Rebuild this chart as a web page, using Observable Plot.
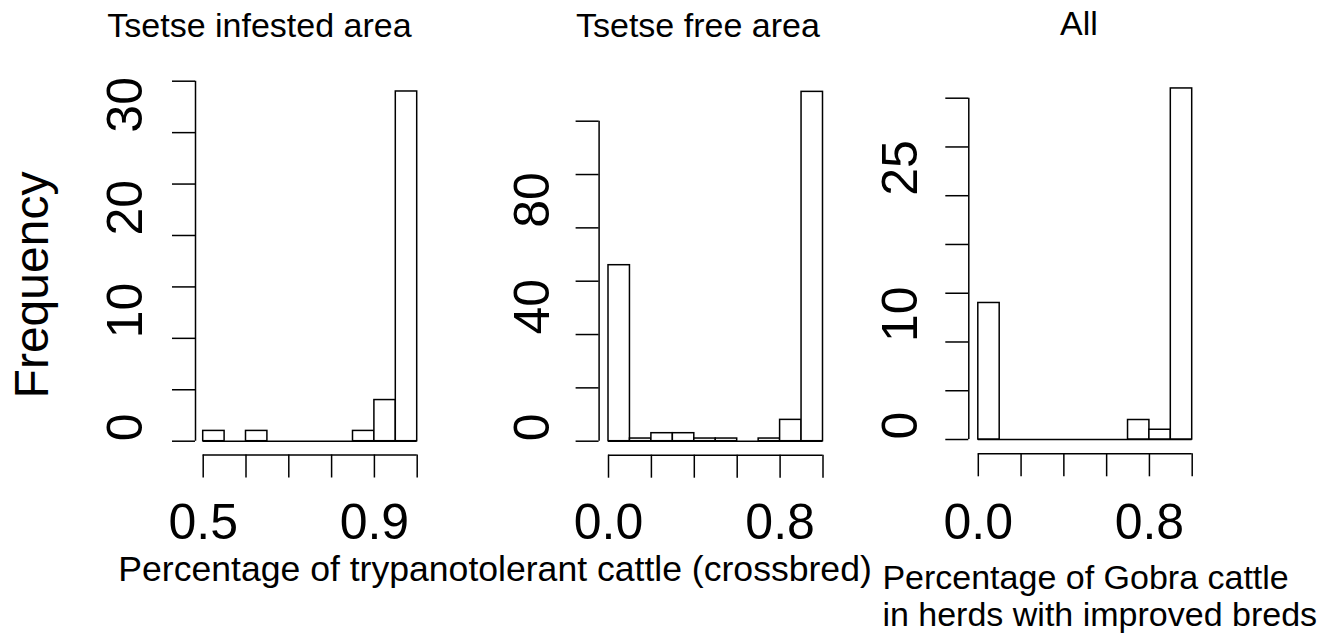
<!DOCTYPE html>
<html><head><meta charset="utf-8">
<script src="https://cdn.jsdelivr.net/npm/d3@7"></script>
<script src="https://cdn.jsdelivr.net/npm/@observablehq/plot@0.6"></script>
<style>
html,body{margin:0;padding:0;background:#fff;}
#root{position:relative;width:1328px;height:634px;overflow:hidden;font-family:"Liberation Sans",Arial,Helvetica,sans-serif;color:#000;background:#fff;}
.lbl{position:absolute;white-space:nowrap;line-height:1;}
.panel{position:absolute;top:0;}
</style></head><body><div id="root"></div>
<script>
// ---- data ----
const panelTitles = ["Tsetse infested area", "Tsetse free area", "All"];
const yAxisTitle = "Frequency";
const xAxisTitle1 = "Percentage of trypanotolerant cattle (crossbred)";
const xAxisTitle3 = ["Percentage of Gobra cattle", "in herds with improved breds"];

const binEdges1 = [0.5, 0.55, 0.6, 0.65, 0.7, 0.75, 0.8, 0.85, 0.9, 0.95, 1.0];
const counts1   = [1, 0, 1, 0, 0, 0, 0, 1, 4, 34];
const binEdges2 = [0, 0.1, 0.2, 0.3, 0.4, 0.5, 0.6, 0.7, 0.8, 0.9, 1.0];
const counts2   = [66, 1, 3, 3, 1, 1, 0, 1, 8, 131];
const binEdges3 = [0, 0.1, 0.2, 0.3, 0.4, 0.5, 0.6, 0.7, 0.8, 0.9, 1.0];
const counts3   = [14, 0, 0, 0, 0, 0, 0, 2, 1, 36];

const yTicks1 = [0, 5, 10, 15, 20, 25, 30, 35];
const yLabels1 = [0, 10, 20, 30];
const yTicks2 = [0, 20, 40, 60, 80, 100, 120];
const yLabels2 = [0, 40, 80];
const yTicks3 = [0, 5, 10, 15, 20, 25, 30, 35];
const yLabels3 = [0, 10, 25];

const xTicks1 = [0.5, 0.6, 0.7, 0.8, 0.9, 1.0];
const xLabels1 = [0.5, 0.9];
const xTicks2 = [0, 0.2, 0.4, 0.6, 0.8, 1.0];
const xLabels2 = [0, 0.8];
const xTicks3 = [0, 0.2, 0.4, 0.6, 0.8, 1.0];
const xLabels3 = [0, 0.8];

// ---- layout ----
const FONT = '"Liberation Sans", Arial, Helvetica, sans-serif';
const SW = 1.5;
const H = 634;
const panels = [
  {left: 0,   width: 450, mL: 202.7, mR: 33.3, mT: 80.7,  mB: 193.3, ydx: -7.7, xdy: 13.8, ldx: -61,  edges: binEdges1, counts: counts1, yTicks: yTicks1, yLabels: yLabels1, xTicks: xTicks1, xLabels: xLabels1},
  {left: 450, width: 430, mL: 158,   mR: 57.5, mT: 120.7, mB: 193.3, ydx: -9.4, xdy: 14.0, ldx: -59.7, edges: binEdges2, counts: counts2, yTicks: yTicks2, yLabels: yLabels2, xTicks: xTicks2, xLabels: xLabels2},
  {left: 880, width: 448, mL: 97.8,  mR: 136.3, mT: 97.7, mB: 195,   ydx: -9.5, xdy: 14.3, ldx: -61.1, edges: binEdges3, counts: counts3, yTicks: yTicks3, yLabels: yLabels3, xTicks: xTicks3, xLabels: xLabels3}
];
const labelBaseline = 538.3;

const root = document.getElementById("root");

function makePanel(p) {
  const bins = p.edges.slice(0, -1).map((e, i) => ({x1: e, x2: p.edges[i + 1], count: p.counts[i]}));
  const xa = p.edges[0], xb = p.edges[p.edges.length - 1];
  const frameBottom = H - p.mB;
  const chart = Plot.plot({
    width: p.width, height: H,
    marginLeft: p.mL, marginRight: p.mR, marginTop: p.mT, marginBottom: p.mB,
    x: {domain: [xa, xb]},
    y: {domain: [0, p.yTicks[p.yTicks.length - 1]]},
    style: {fontFamily: FONT, background: "transparent", overflow: "visible", color: "#000"},
    marks: [
      // baseline under empty bins
      Plot.ruleY([0], {x1: () => xa, x2: () => xb, stroke: "#000", strokeWidth: SW}),
      Plot.rectY(bins.filter(d => d.count > 0), {x1: "x1", x2: "x2", y: "count", fill: "#fff", stroke: "#000", strokeWidth: SW}),
      // y axis (offset, R style)
      Plot.axisY({ticks: p.yTicks, tickSize: 23, dx: p.ydx, tickFormat: () => "", label: null, stroke: "#000", strokeWidth: SW}),
      Plot.ruleX([xa], {y1: () => p.yTicks[0], y2: () => p.yTicks[p.yTicks.length - 1], dx: p.ydx, stroke: "#000", strokeWidth: SW}),
      Plot.text(p.yLabels, {y: d => d, text: d => String(d), frameAnchor: "left", rotate: -90, textAnchor: "start", lineAnchor: "bottom", dx: p.ldx, fontSize: 50, fill: "#000"}),
      // x axis (offset, R style)
      Plot.axisX({ticks: p.xTicks, tickSize: 23, dy: p.xdy, tickFormat: () => "", label: null, stroke: "#000", strokeWidth: SW}),
      Plot.ruleY([0], {x1: () => p.xTicks[0], x2: () => p.xTicks[p.xTicks.length - 1], dy: p.xdy, stroke: "#000", strokeWidth: SW}),
      Plot.text(p.xLabels, {x: d => d, text: d => d.toFixed(1), frameAnchor: "bottom", lineAnchor: "bottom", dy: labelBaseline - frameBottom, fontSize: 50, fill: "#000"})
    ]
  });
  chart.classList.add("panel");
  chart.style.left = p.left + "px";
  root.appendChild(chart);
}
panels.forEach(makePanel);

function addText(str, left, baseline, fs) {
  const d = document.createElement("div");
  d.className = "lbl";
  d.textContent = str;
  d.style.fontSize = fs + "px";
  d.style.left = left + "px";
  d.style.top = (baseline - 0.8465 * fs) + "px";
  root.appendChild(d);
  return d;
}

addText(panelTitles[0], 107.3, 36.7, 34);
addText(panelTitles[1], 576, 36.7, 34);
addText(panelTitles[2], 1060, 34.5, 34);
addText(xAxisTitle1, 118.3, 581.7, 35.6);
addText(xAxisTitle3[0], 882.4, 588.3, 34);
addText(xAxisTitle3[1], 882.4, 626, 34);

// rotated y title
(function () {
  const fs = 48;
  const d = document.createElement("div");
  d.className = "lbl";
  d.textContent = yAxisTitle;
  d.style.fontSize = fs + "px";
  d.style.left = (48.5 - 0.3465 * fs) + "px";
  d.style.top = "285px";
  d.style.transform = "translate(-50%,-50%) rotate(-90deg)";
  root.appendChild(d);
})();
</script></body></html>
